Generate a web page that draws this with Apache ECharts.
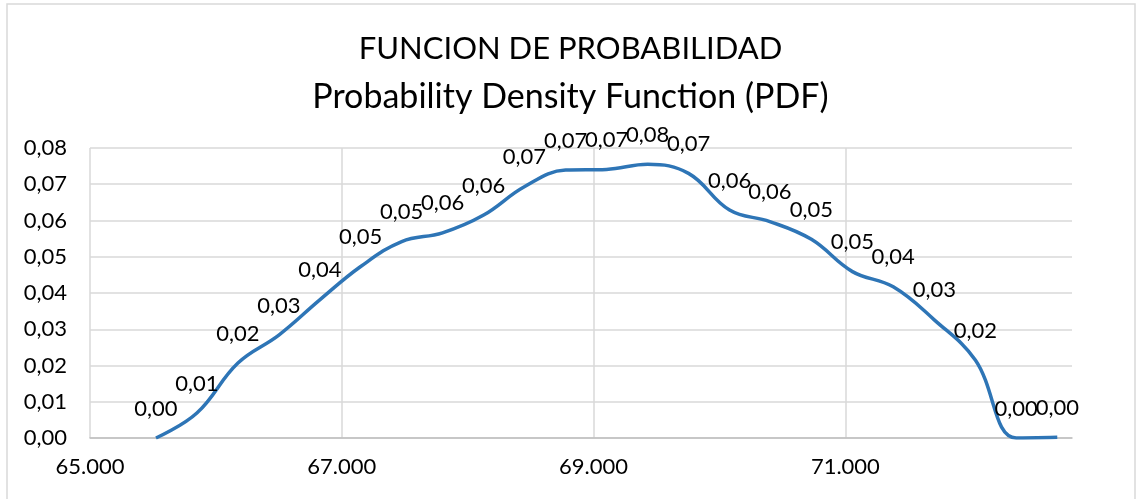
<!DOCTYPE html>
<html>
<head>
<meta charset="utf-8">
<script src="https://cdn.jsdelivr.net/npm/echarts@6/dist/echarts.min.js"></script>
<style>
    html, body { margin: 0; padding: 0; background: #fff; }
    #chart { width: 1141px; height: 499px; }
</style>
</head>
<body>
<div id="chart"></div>
<script>
// x values (Spanish locale: 65.000 = 65000)
const xValues = [65524, 65849, 66175, 66500, 66825, 67150, 67476, 67800, 68127, 68450, 68778, 69103,
    69430, 69754, 70080, 70400, 70730, 71056, 71380, 71706, 72032, 72357, 72683];
const pdfValues = [0.0000, 0.0069, 0.0207, 0.0284, 0.0381, 0.0473, 0.0542, 0.0566, 0.0615, 0.0693, 0.0739, 0.0741,
    0.0755, 0.0730, 0.0629, 0.0597, 0.0548, 0.0459, 0.0417, 0.0326, 0.0215, 0.0000, 0.0002];
const titleLines = ['FUNCION DE PROBABILIDAD', 'Probability Density Function (PDF)'];

const font = 'Lato';

function comma(v) {
    return v.toFixed(2).replace('.', ',');
}
function thousands(v) {
    return String(Math.round(v)).replace(/\B(?=(\d{3})+(?!\d))/g, '.');
}

let myChart = echarts.init(document.getElementById('chart'));
let options = {
    animation: false,
    backgroundColor: '#fff',
    title: {
        text: '{a|' + titleLines[0] + '}\n{b|' + titleLines[1] + '}',
        left: 'center',
        top: 20,
        textStyle: {
            fontFamily: font,
            fontWeight: 'normal',
            color: '#000',
            rich: {
                a: { fontFamily: font, fontSize: 31, lineHeight: 48, color: '#000' },
                b: { fontFamily: font, fontSize: 34, lineHeight: 48, color: '#000' }
            }
        }
    },
    graphic: [{
        type: 'rect',
        shape: { x: 7, y: 4, width: 1128, height: 510 },
        style: { fill: 'none', stroke: '#d9d9d9', lineWidth: 1.5 },
        silent: true
    }],
    grid: { left: 90, right: 69, top: 148, bottom: 61 },
    xAxis: {
        type: 'value',
        min: 65000,
        max: 72800,
        interval: 2000,
        axisLine: { show: true, lineStyle: { color: '#bfbfbf', width: 1.5 } },
        axisTick: { show: false },
        axisLabel: {
            showMaxLabel: false,
            margin: 18,
            fontFamily: font,
            fontSize: 22,
            color: '#000',
            formatter: thousands
        },
        splitLine: { show: true, showMaxLine: false, lineStyle: { color: '#d9d9d9', width: 1.5 } }
    },
    yAxis: {
        type: 'value',
        min: 0,
        max: 0.08,
        interval: 0.01,
        axisLine: { show: false },
        axisTick: { show: false },
        axisLabel: {
            margin: 23,
            fontFamily: font,
            fontSize: 22,
            color: '#000',
            formatter: comma
        },
        splitLine: { show: true, lineStyle: { color: '#d9d9d9', width: 1.5 } }
    },
    series: {
        type: 'line',
        data: xValues.map((x, i) => [x, pdfValues[i]]),
        smooth: 0.4,
        symbol: 'circle',
        symbolSize: 1,
        showSymbol: true,
        itemStyle: { color: 'rgba(0,0,0,0)' },
        clip: true,
        lineStyle: { color: '#2e75b6', width: 3.5 },
        label: {
            show: true,
            position: 'top',
            distance: 18,
            fontFamily: font,
            fontSize: 22,
            color: '#000',
            formatter: function (params) {
                return comma(params.value[1]);
            }
        }
    }
};
myChart.setOption(options);
</script>
</body>
</html>
